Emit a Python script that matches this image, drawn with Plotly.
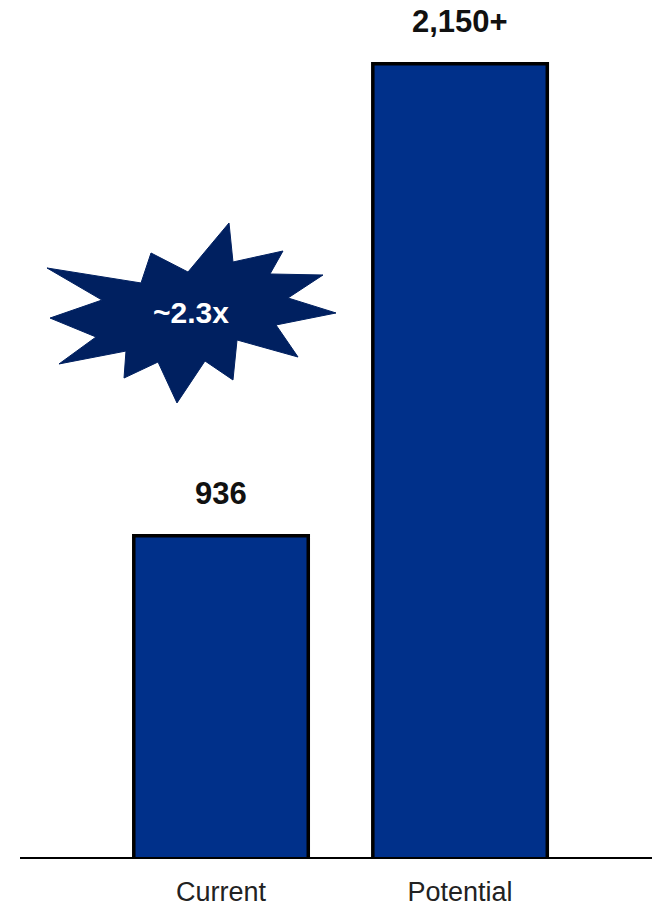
import plotly.graph_objects as go

categories = ["Current", "Potential"]
values = [936, 2150]
value_labels = ["936", "2,150+"]
multiplier_label = "~2.3x"

W, H = 654, 906
L, R, T, B = 20, 2, 0, 49
plot_w = W - L - R
plot_h = H - T - B

bar_color = "#00308A"
star_color = "#002060"
FONT = "Liberation Sans, Arial, sans-serif"

fig = go.Figure()
fig.add_trace(go.Bar(
    x=[0, 1], y=values, width=0.73,
    marker=dict(color=bar_color, line=dict(color="black", width=3.5)),
    hoverinfo="skip",
))

for i, (v, lab) in enumerate(zip(values, value_labels)):
    fig.add_annotation(x=i, y=v, text=f"<b>{lab}</b>", showarrow=False,
                       yshift=42, yanchor="middle", xanchor="center",
                       font=dict(family=FONT, size=31, color="#111111"))

# starburst decoration (pixel positions converted to paper coords)
star_px = [
    (229, 223), (233, 262), (283, 251), (270, 274), (323, 275), (288, 298),
    (336, 313), (276, 325), (298, 357), (237, 340), (233, 380), (205, 361),
    (177, 403), (158, 362), (124, 378), (126, 351), (59, 364), (96, 337),
    (50, 318), (102, 300), (47, 268), (141, 283), (151, 253), (188, 272),
]

def to_paper(px, py):
    return (px - L) / plot_w, (H - B - py) / plot_h

pts = [to_paper(x, y) for x, y in star_px]
path = "M " + " L ".join(f"{x:.4f},{y:.4f}" for x, y in pts) + " Z"
fig.add_shape(type="path", path=path, xref="paper", yref="paper",
              fillcolor=star_color, line=dict(color=star_color, width=1), layer="above")
cx, cy = to_paper(191, 313)
fig.add_annotation(x=cx, y=cy, xref="paper", yref="paper", text=f"<b>{multiplier_label}</b>",
                   xanchor="center", yanchor="middle",
                   showarrow=False, font=dict(family=FONT, size=30, color="white"))

fig.update_layout(
    width=W, height=H,
    margin=dict(l=L, r=R, t=T, b=B),
    paper_bgcolor="white", plot_bgcolor="white",
    showlegend=False,
    xaxis=dict(range=[-0.841, 1.803], tickvals=[0, 1], ticktext=categories,
               showgrid=False, zeroline=False, showline=True, linecolor="black", linewidth=2,
               ticks="", ticklabelstandoff=10,
               tickfont=dict(family=FONT, size=27, color="#222222")),
    yaxis=dict(range=[110, 2314], visible=False, showgrid=False, zeroline=False),
)

fig.write_html("out.html")
